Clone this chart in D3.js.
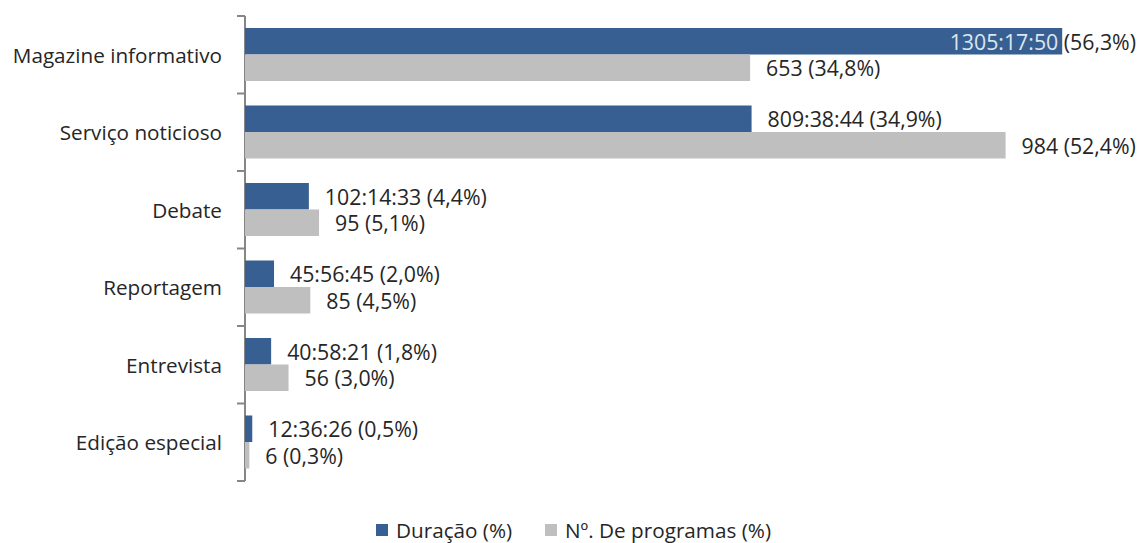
<!DOCTYPE html>
<html><head><meta charset="utf-8">
<script src="https://cdn.jsdelivr.net/npm/d3@7"></script>
<style>body{margin:0;background:#fff}svg{display:block}</style>
</head><body>
<script>
const categories = ["Magazine informativo","Serviço noticioso","Debate","Reportagem","Entrevista","Edição especial"];
const durationPct = [56.3,34.9,4.4,2.0,1.8,0.5];
const durationLabel = ["1305:17:50","809:38:44","102:14:33","45:56:45","40:58:21","12:36:26"];
const countPct = [34.8,52.4,5.1,4.5,3.0,0.3];
const countValue = [653,984,95,85,56,6];
const seriesNames = ["Duração (%)","Nº. De programas (%)"];
const colors = ["#375F91","#BFBFBF"];

const W=1138,H=543;
const svg=d3.select("body").append("svg").attr("width",W).attr("height",H);
const font="'Open Sans', sans-serif";
const fs=20.7, fsv=21.3;
const x=d3.scaleLinear().domain([0,60]).range([245,245+60*14.515]);
const y=d3.scaleBand().domain(categories).range([16,481]);
const pctFmt=v=>"("+v.toFixed(1).replace(".",",")+"%)";

// axis
const ax=svg.append("g").attr("transform","translate(245,0)")
  .call(d3.axisLeft(y).tickSize(0).tickFormat(""));
ax.select(".domain").attr("stroke","#868686").attr("stroke-width",2).attr("d",`M0,${16}V${481}`);
ax.selectAll(".tick").remove();
const bounds=[...categories.map(c=>y(c)),481];
svg.selectAll("line.tk").data(bounds).enter().append("line")
  .attr("x1",237).attr("x2",245).attr("y1",d=>d).attr("y2",d=>d)
  .attr("stroke","#868686").attr("stroke-width",2);

svg.selectAll("text.cat").data(categories).enter().append("text")
  .attr("x",222).attr("y",d=>y(d)+y.bandwidth()/2).attr("text-anchor","end")
  .attr("dominant-baseline","central").attr("font-family",font).attr("font-size",fs)
  .attr("fill","#262626").text(d=>d);

const bh=26.5, off=12;
const g=svg.append("g");
categories.forEach((c,i)=>{
  const y0=y(c)+off;
  g.append("rect").attr("x",x(0)).attr("y",y0).attr("width",x(durationPct[i])-x(0)).attr("height",bh).attr("fill",colors[0]);
  g.append("rect").attr("x",x(0)).attr("y",y0+bh).attr("width",x(countPct[i])-x(0)).attr("height",bh).attr("fill",colors[1]);
  const t1=svg.append("text").attr("font-family",font).attr("font-size",fsv).attr("fill","#262626")
    .attr("dominant-baseline","central").attr("y",y0+bh/2);
  if(i===0){
    t1.attr("x",1136).attr("text-anchor","end");
    t1.append("tspan").attr("fill","#DCE6F2").text(durationLabel[i]);
    t1.append("tspan").text(" "+pctFmt(durationPct[i]));
  } else {
    t1.attr("x",x(durationPct[i])+16).text(durationLabel[i]+" "+pctFmt(durationPct[i]));
  }
  svg.append("text").attr("font-family",font).attr("font-size",fsv).attr("fill","#262626")
    .attr("dominant-baseline","central").attr("y",y0+bh*1.5).attr("x",x(countPct[i])+16)
    .text(countValue[i]+" "+pctFmt(countPct[i]));
});

// legend
const lg=svg.append("g");
const lx=[376,545];
seriesNames.forEach((n,i)=>{
  lg.append("rect").attr("x",lx[i]).attr("y",524).attr("width",12).attr("height",12).attr("fill",colors[i]);
  lg.append("text").attr("x",lx[i]+20).attr("y",530).attr("dominant-baseline","central")
    .attr("font-family",font).attr("font-size",fs).attr("fill","#262626").text(n);
});
</script>
</body></html>
